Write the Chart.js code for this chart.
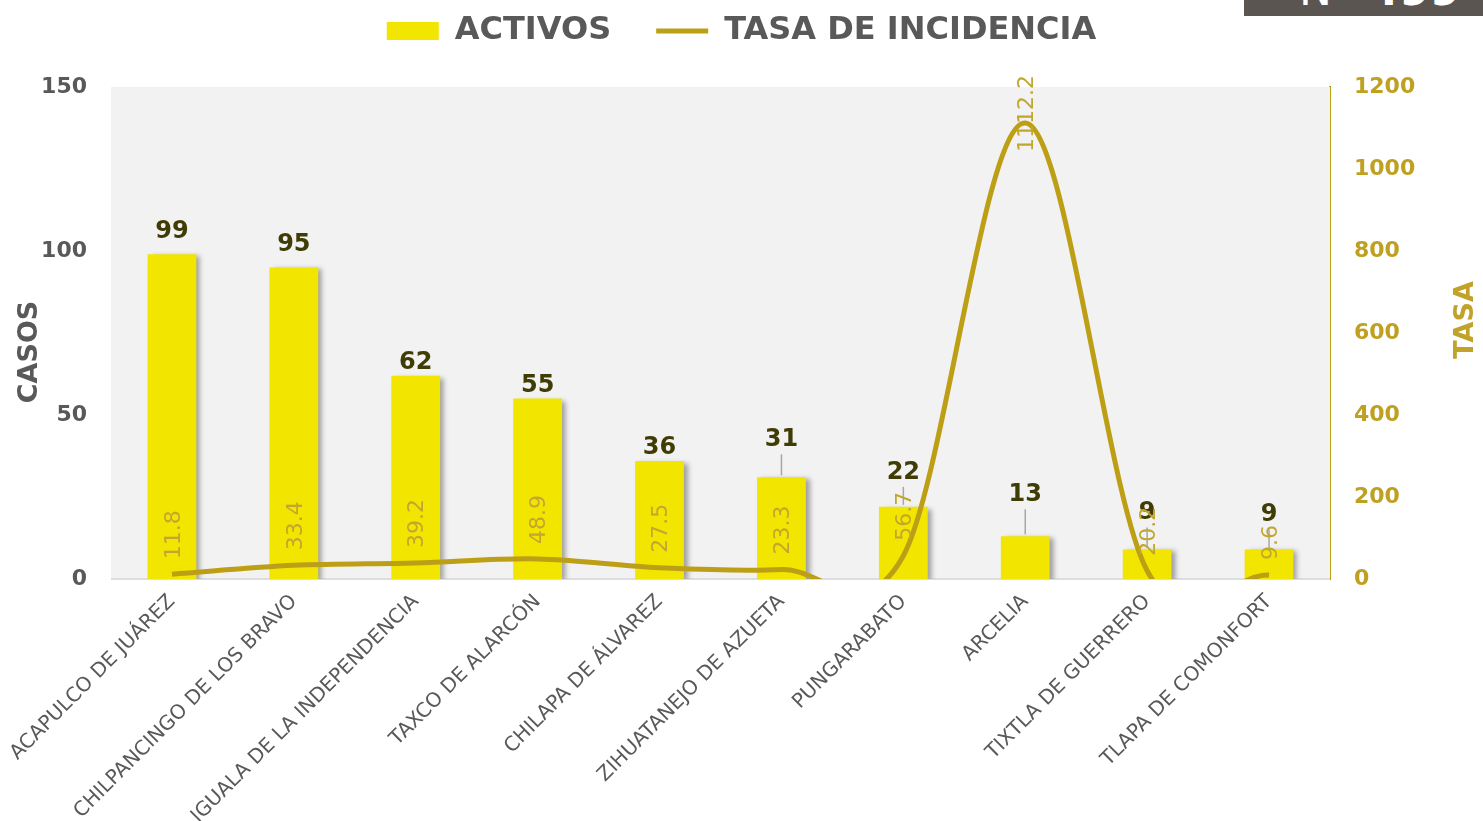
<!DOCTYPE html>
<html>
<head>
<meta charset="utf-8">
<script src="https://cdn.jsdelivr.net/npm/chart.js@4.4.1/dist/chart.umd.min.js"></script>
<style>
  html, body { margin: 0; padding: 0; background: #ffffff; }
  #wrap { position: relative; width: 1483px; height: 821px; overflow: hidden; }
  #nbox {
    position: absolute; top: 0; left: 1244px; width: 239px; height: 16px;
    background: #5a5550; overflow: hidden;
  }
  #nbox span {
    position: absolute; left: 55px; top: -33px; color: #ffffff;
    font-family: "DejaVu Sans", sans-serif; font-size: 44px; line-height: 46px; white-space: nowrap;
  }
</style>
</head>
<body>
<div id="wrap">
  <canvas id="casosChart" width="1483" height="821"></canvas>
  <div id="nbox"><span>N=<b>499</b></span></div>
</div>
<script>
const municipios = [
  "ACAPULCO DE JUÁREZ",
  "CHILPANCINGO DE LOS BRAVO",
  "IGUALA DE LA INDEPENDENCIA",
  "TAXCO DE ALARCÓN",
  "CHILAPA DE ÁLVAREZ",
  "ZIHUATANEJO DE AZUETA",
  "PUNGARABATO",
  "ARCELIA",
  "TIXTLA DE GUERRERO",
  "TLAPA DE COMONFORT",
];
const activos = [99, 95, 62, 55, 36, 31, 22, 13, 9, 9];
const tasaIncidencia = [11.8, 33.4, 39.2, 48.9, 27.5, 23.3, 56.7, 1112.2, 20.2, 9.6];

const casosTicks = [0, 50, 100, 150];
const tasaTicks = [0, 200, 400, 600, 800, 1000, 1200];

const AMARILLO = "#f2e500";
const DORADO = "#bd9f16";
const GRIS = "#595959";
const OLIVA = "#403c06";
const FUENTE = "'DejaVu Sans', sans-serif";

// fondo gris del area de trazado
const fondoPlugin = {
  id: "fondo",
  beforeDatasetsDraw(chart) {
    const { ctx, chartArea: a } = chart;
    ctx.save();
    ctx.fillStyle = "#f2f2f2";
    ctx.fillRect(a.left, a.top, a.right - a.left, a.bottom - a.top);
    ctx.strokeStyle = "#dddddd";
    ctx.lineWidth = 2;
    ctx.beginPath();
    ctx.moveTo(a.left, a.bottom);
    ctx.lineTo(a.right, a.bottom);
    ctx.stroke();
    ctx.restore();
  },
};

// alto de la leyenda
const leyendaPlugin = {
  id: "leyendaAlto",
  afterInit(chart) {
    const legend = chart.legend;
    const fit = legend.fit;
    legend.fit = function () {
      fit.call(this);
      this.height += chart.options.plugins.leyendaAlto.extra;
    };
  },
};

// suavizado tipo Excel (Catmull-Rom) para la linea
const suavizadoPlugin = {
  id: "suavizado",
  beforeDatasetDraw(chart, args) {
    if (args.meta.type !== "line") return;
    const line = args.meta.dataset;
    line.updateControlPoints(chart.chartArea, args.meta.iAxis);
    const pts = args.meta.data;
    const n = pts.length;
    for (let i = 0; i < n; i++) {
      const prev = pts[Math.max(i - 1, 0)];
      const next = pts[Math.min(i + 1, n - 1)];
      const k = (i === 0 || i === n - 1) ? 1 / 3 : 1 / 6;
      const dx = (next.x - prev.x) * k;
      const dy = (next.y - prev.y) * k;
      pts[i].cp1x = pts[i].x - dx;
      pts[i].cp1y = pts[i].y - dy;
      pts[i].cp2x = pts[i].x + dx;
      pts[i].cp2y = pts[i].y + dy;
    }
  },
};

// sombra de las barras
const sombraPlugin = {
  id: "sombra",
  beforeDatasetDraw(chart, args) {
    if (args.meta.type !== "bar") return;
    const ctx = chart.ctx;
    ctx.save();
    ctx.shadowColor = "rgba(0,0,0,0.35)";
    ctx.shadowBlur = 5;
    ctx.shadowOffsetX = 4;
    ctx.shadowOffsetY = 2;
  },
  afterDatasetDraw(chart, args) {
    if (args.meta.type !== "bar") return;
    chart.ctx.restore();
  },
};

// etiquetas de valores
const etiquetasPlugin = {
  id: "etiquetas",
  afterDatasetsDraw(chart, args, opts) {
    const { ctx, chartArea: a } = chart;
    const barras = chart.getDatasetMeta(0);
    const linea = chart.getDatasetMeta(1);
    ctx.save();

    // casos activos encima de cada barra
    ctx.font = "bold 24px " + FUENTE;
    ctx.fillStyle = OLIVA;
    ctx.textAlign = "center";
    ctx.textBaseline = "alphabetic";
    barras.data.forEach((bar, i) => {
      const lift = opts.lift[i] || 0;
      const y = bar.y - 16 - lift;
      if (lift > 5) {
        ctx.strokeStyle = "#a6a6a6";
        ctx.lineWidth = 1.5;
        ctx.beginPath();
        ctx.moveTo(bar.x, y + 8);
        ctx.lineTo(bar.x, bar.y - 2);
        ctx.stroke();
      }
      ctx.fillText(String(activos[i]), bar.x, y);
    });

    // tasa de incidencia, texto vertical
    ctx.font = "22px " + FUENTE;
    ctx.fillStyle = "#c2a72e";
    ctx.textAlign = "left";
    ctx.textBaseline = "middle";
    linea.data.forEach((pt, i) => {
      const txt = String(tasaIncidencia[i]);
      const w = ctx.measureText(txt).width;
      let bottom = pt.y - 15;
      if (bottom - w < a.top - 12) bottom = a.top - 12 + w;
      ctx.save();
      ctx.translate(pt.x + 2, bottom);
      ctx.rotate(-Math.PI / 2);
      ctx.fillText(txt, 0, 0);
      ctx.restore();
    });

    ctx.restore();
  },
  afterDraw(chart) {
    const ctx = chart.ctx;
    ctx.save();
    ctx.font = "bold 27px " + FUENTE;
    ctx.textAlign = "center";
    ctx.textBaseline = "middle";
    ctx.fillStyle = GRIS;
    ctx.translate(30, 352);
    ctx.rotate(-Math.PI / 2);
    ctx.fillText("CASOS", 0, 0);
    ctx.restore();
    ctx.save();
    ctx.font = "bold 27px " + FUENTE;
    ctx.textAlign = "center";
    ctx.textBaseline = "middle";
    ctx.fillStyle = "#c2a32a";
    ctx.translate(1466, 320);
    ctx.rotate(-Math.PI / 2);
    ctx.fillText("TASA", 0, 0);
    ctx.restore();
  },
};

const ctx = document.getElementById("casosChart").getContext("2d");

const casosChart = new Chart(ctx, {
  type: "bar",
  data: {
    labels: municipios,
    datasets: [
      {
        type: "bar",
        label: "ACTIVOS",
        data: activos,
        backgroundColor: AMARILLO,
        borderWidth: 0,
        barPercentage: 0.4,
        categoryPercentage: 1,
        yAxisID: "y",
        order: 1,
      },
      {
        type: "line",
        label: "TASA DE INCIDENCIA",
        data: tasaIncidencia,
        borderColor: DORADO,
        backgroundColor: DORADO,
        borderWidth: 5,
        pointRadius: 0,
        tension: 0.4,
        yAxisID: "y2",
        order: 0,
      },
    ],
  },
  options: {
    responsive: false,
    animation: false,
    layout: { padding: { top: -30 } },
    elements: { line: { capBezierPoints: false } },
    plugins: {
      tooltip: { enabled: false },
      legend: {
        position: "top",
        labels: {
          usePointStyle: true,
          pointStyleWidth: 52,
          boxHeight: 18,
          padding: 45,
          color: GRIS,
          font: { family: FUENTE, size: 32, weight: "bold" },
          generateLabels() {
            return [
              { text: "ACTIVOS", fillStyle: AMARILLO, strokeStyle: AMARILLO, lineWidth: 0, pointStyle: "rect", fontColor: GRIS },
              { text: "TASA DE INCIDENCIA", fillStyle: DORADO, strokeStyle: DORADO, lineWidth: 5, pointStyle: "line", fontColor: GRIS },
            ];
          },
        },
      },
      leyendaAlto: { extra: 30 },
      etiquetas: { lift: { 2: -9, 3: -9, 4: -9, 5: 15, 6: 12, 7: 19, 8: 14, 9: 12 } },
    },
    scales: {
      x: {
        grid: { display: false },
        border: { display: false },
        ticks: {
          color: GRIS,
          font: { family: FUENTE, size: 20 },
          minRotation: 45,
          maxRotation: 45,
          autoSkip: false,
        },
        afterFit(scale) { scale.height = 242; },
      },
      y: {
        position: "left",
        min: 0,
        max: 150,
        grid: { display: false, drawTicks: false },
        border: { display: false },
        afterBuildTicks(scale) { scale.ticks = casosTicks.map((v) => ({ value: v })); },
        ticks: {
          color: GRIS,
          padding: 24,
          font: { family: FUENTE, size: 22, weight: "bold" },
        },
        afterFit(scale) { scale.width = 111; },
      },
      y2: {
        position: "right",
        min: 0,
        max: 1200,
        grid: { display: false, drawOnChartArea: false, drawTicks: true, tickLength: 6, color: DORADO, tickWidth: 2 },
        border: { display: true, color: DORADO, width: 2 },
        afterBuildTicks(scale) { scale.ticks = tasaTicks.map((v) => ({ value: v })); },
        ticks: {
          color: "#bfa020",
          padding: 18,
          font: { family: FUENTE, size: 22, weight: "bold" },
          callback: (v) => String(v),
        },
        afterFit(scale) { scale.width = 153; },
      },
    },
  },
  plugins: [fondoPlugin, leyendaPlugin, suavizadoPlugin, sombraPlugin, etiquetasPlugin],
});
</script>
</body>
</html>
